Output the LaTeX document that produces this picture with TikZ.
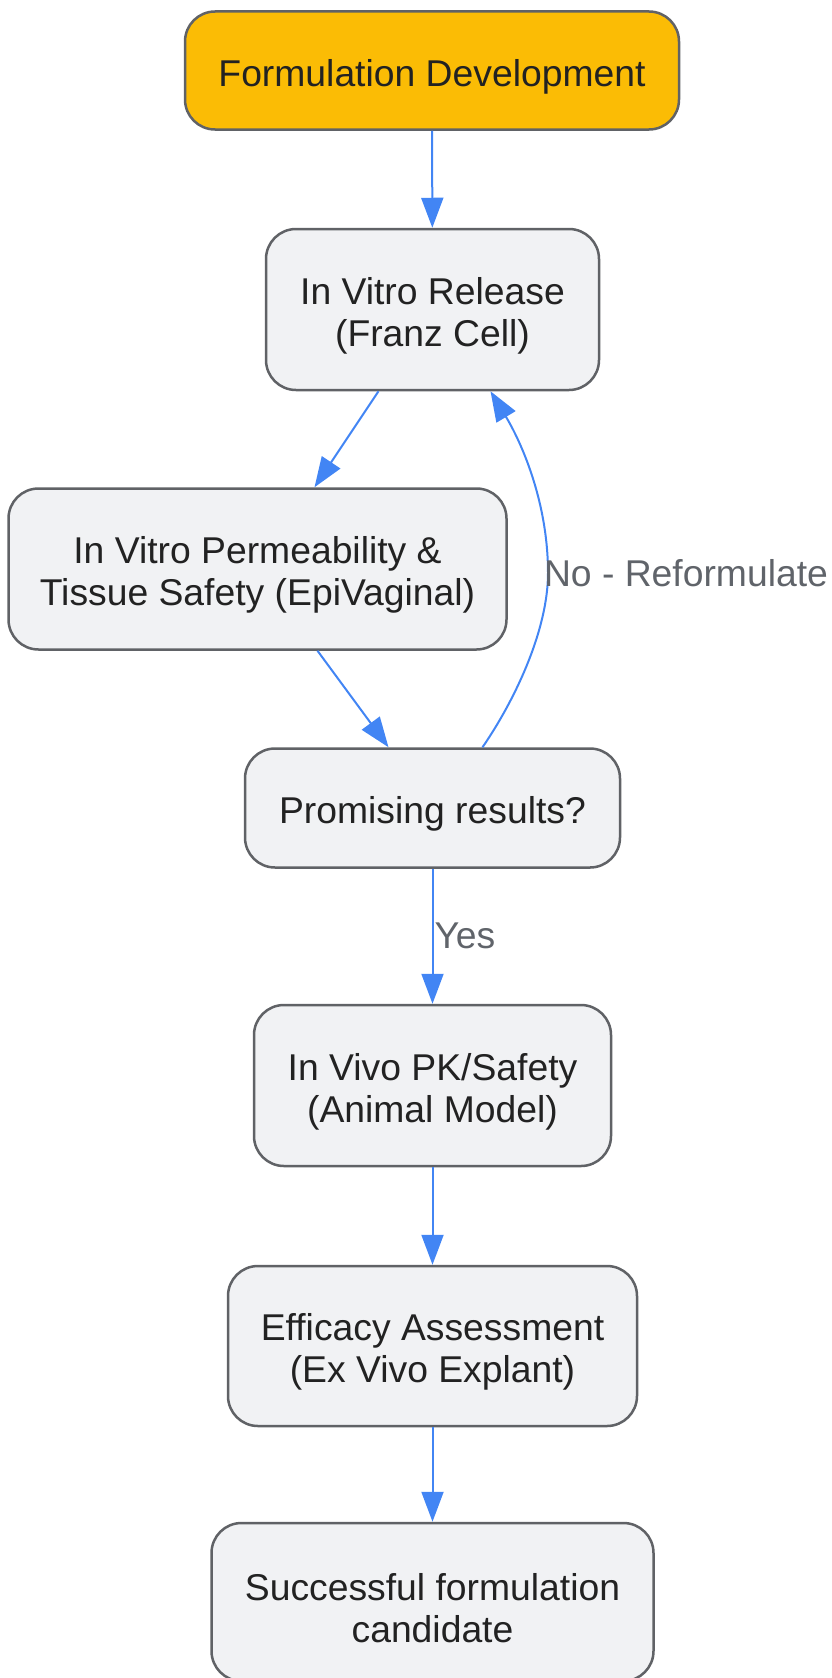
\documentclass[tikz,border=0pt]{standalone}
\usepackage{fontspec}
\setmainfont{Liberation Sans}
\usetikzlibrary{arrows.meta}

\definecolor{boxfill}{HTML}{F1F2F4}
\definecolor{boxline}{HTML}{606266}
\definecolor{startfill}{HTML}{FBBC05}
\definecolor{flowblue}{HTML}{4285F4}
\definecolor{textdark}{HTML}{222222}
\definecolor{labelgray}{HTML}{60646A}

% pushes the first text line down a little
\newcommand{\lifttext}{\rule{0pt}{39.5pt}}

\begin{document}
\begin{tikzpicture}[x=1pt,y=-1pt,
    box/.style={draw=boxline, line width=2.5pt, fill=boxfill, rounded corners=30pt,
        align=center, text=textdark, font=\fontsize{37.3}{42}\selectfont, inner sep=0pt},
    flow/.style={-{Triangle[length=30pt,width=22pt]}, draw=flowblue, line width=2pt},
    edgelabel/.style={text=labelgray, font=\fontsize{37.3}{42}\selectfont, inner sep=1pt}]

\useasboundingbox (0,0) rectangle (832,1678);

% the steps, top to bottom
\node[box, fill=startfill, minimum width=494pt, minimum height=118pt] (dev) at (432,70.5) {\lifttext Formulation Development};
\node[box, minimum width=333pt, minimum height=161pt] (release) at (432.5,309.5) {\lifttext In Vitro Release\\(Franz Cell)};
\node[box, minimum width=498pt, minimum height=161pt] (perm) at (257.5,569) {\lifttext In Vitro Permeability \&\\Tissue Safety (EpiVaginal)};
\node[box, minimum width=375pt, minimum height=119pt] (promising) at (432.5,808) {\lifttext Promising results?};
\node[box, minimum width=357pt, minimum height=161pt] (invivo) at (432.5,1085.5) {\lifttext In Vivo PK/Safety\\(Animal Model)};
\node[box, minimum width=409pt, minimum height=160pt] (efficacy) at (432.5,1346) {\lifttext Efficacy Assessment\\(Ex Vivo Explant)};
\node[box, minimum width=442pt, minimum height=158pt] (candidate) at (432.5,1602) {\lifttext Successful formulation\\candidate};

% connectors
\draw[flow] (dev) -- (release);
\draw[flow] ([xshift=-54pt]release.south) -- ([xshift=57pt]perm.north);
\draw[flow] ([xshift=60pt]perm.south) -- ([xshift=-44pt]promising.north);
\draw[flow] ([xshift=50pt]promising.north) .. controls (515,700) and (548,630) .. (548,573)
    node[edgelabel, anchor=west, xshift=-6pt] {No - Reformulate}
    .. controls (548,500) and (520,440) .. ([xshift=58pt]release.south);
\draw[flow] (promising) -- (invivo) node[edgelabel, pos=0.5, anchor=west] {Yes};
\draw[flow] (invivo) -- (efficacy);
\draw[flow] (efficacy) -- (candidate);

\end{tikzpicture}
\end{document}
